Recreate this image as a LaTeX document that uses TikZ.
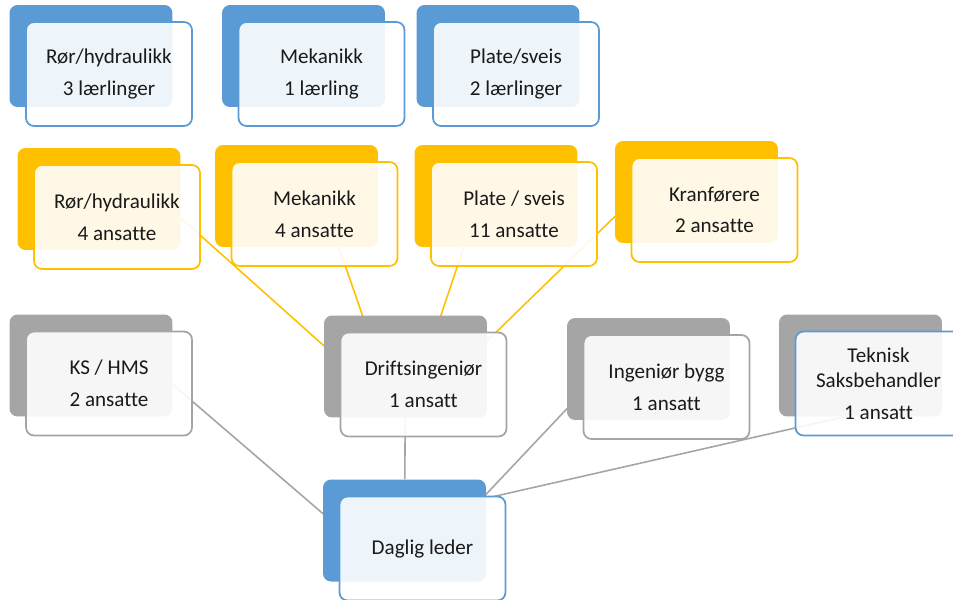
\documentclass[tikz,border=0pt]{standalone}
\usepackage{fontspec}
\setmainfont{Carlito}[Ligatures=NoCommon]
\usetikzlibrary{calc,backgrounds}

\definecolor{orgblue}{HTML}{5B9BD5}
\definecolor{orgyellow}{HTML}{FFC000}
\definecolor{orggrey}{HTML}{A5A5A5}
\definecolor{orgtext}{HTML}{1A1A1A}

\tikzset{
	backbox/.style={fill=#1, rounded corners=0.16cm, inner sep=0pt,
		minimum width=3.26cm, minimum height=2.04cm},
	frontbox/.style={draw=#1, line width=1pt, fill=white, fill opacity=0.9,
		text opacity=1, rounded corners=0.16cm, minimum width=3.32cm,
		minimum height=2.08cm, align=center, text=orgtext,
		font=\fontsize{12}{14.5}\selectfont},
	linkline/.style={draw=#1, line width=0.9pt}
}

\begin{document}
\begin{tikzpicture}[x=0.02cm, y=-0.02cm]
	\clip (0,0) rectangle (953,599);

	% laerlinger
	\node [backbox=orgblue] (laerRorB) at (91,56) {};
	\node [frontbox=orgblue] (laerRor) at ($(laerRorB)+(18,18)$) {Rør/hydraulikk\\[3.5pt]3 lærlinger};
	\node [backbox=orgblue] (laerMekB) at (303.5,56) {};
	\node [frontbox=orgblue] (laerMek) at ($(laerMekB)+(18,18)$) {Mekanikk\\[3.5pt]1 lærling};
	\node [backbox=orgblue] (laerPlateB) at (498,56) {};
	\node [frontbox=orgblue] (laerPlate) at ($(laerPlateB)+(18,18)$) {Plate/sveis\\[3.5pt]2 lærlinger};

	% ansatte under driftsingenioren
	\node [backbox=orgyellow] (ansRorB) at (99,199) {};
	\node [frontbox=orgyellow] (ansRor) at ($(ansRorB)+(18,18)$) {Rør/hydraulikk\\[3.5pt]4 ansatte};
	\node [backbox=orgyellow] (ansMekB) at (296.5,196) {};
	\node [frontbox=orgyellow] (ansMek) at ($(ansMekB)+(18,18)$) {Mekanikk\\[3.5pt]4 ansatte};
	\node [backbox=orgyellow] (ansPlateB) at (496,196) {};
	\node [frontbox=orgyellow] (ansPlate) at ($(ansPlateB)+(18,18)$) {Plate / sveis\\[3.5pt]11 ansatte};
	\node [backbox=orgyellow] (ansKranB) at (696.5,192) {};
	\node [frontbox=orgyellow] (ansKran) at ($(ansKranB)+(18,18)$) {Kranførere\\[3.5pt]2 ansatte};

	% midtre nivaa
	\node [backbox=orggrey] (ksB) at (91,365.5) {};
	\node [frontbox=orggrey] (ks) at ($(ksB)+(18,18)$) {KS / HMS\\[3.5pt]2 ansatte};
	\node [backbox=orggrey] (driftB) at (405.5,366.5) {};
	\node [frontbox=orggrey] (drift) at ($(driftB)+(18,18)$) {Driftsingeniør\\[3.5pt]1 ansatt};
	\node [backbox=orggrey] (byggB) at (648.5,369) {};
	\node [frontbox=orggrey] (bygg) at ($(byggB)+(18,18)$) {Ingeniør bygg\\[3.5pt]1 ansatt};
	\node [backbox=orggrey] (tekniskB) at (860.5,365.5) {};
	\node [frontbox=orgblue] (teknisk) at ($(tekniskB)+(18,18)$) {Teknisk\\Saksbehandler\\[3.5pt]1 ansatt};

	% leder
	\node [backbox=orgblue] (lederB) at (404.5,530.5) {};
	\node [frontbox=orgblue] (leder) at ($(lederB)+(18,18)$) {Daglig leder};

	\begin{scope}[on background layer]
		\draw [linkline=orgyellow] ($(ansRorB.east)+(-10,10)$) -- ($(driftB.west)+(10,-12)$);
		\draw [linkline=orgyellow] ($(ansMekB.south)+(40,-7)$) -- ($(driftB.north)+(-40,9)$);
		\draw [linkline=orgyellow] ($(ansPlateB.south)+(-30,-7)$) -- ($(driftB.north)+(32.5,9)$);
		\draw [linkline=orgyellow] ($(ansKranB.west)+(10,15)$) -- ($(driftB.east)+(-9,-17)$);

		\draw [linkline=orggrey] ($(ksB.east)+(-7,13)$) -- ($(lederB.west)+(10,-8.5)$);
		\draw [linkline=orggrey] (driftB) -- (lederB);
		\draw [linkline=orggrey] ($(byggB.west)+(8,31.5)$) -- ($(lederB.east)+(-8,-28)$);
		\draw [linkline=orggrey] ($(tekniskB.south)+(10,-6)$) -- ($(lederB.east)+(-8,-30.5)$);
	\end{scope}
\end{tikzpicture}
\end{document}
